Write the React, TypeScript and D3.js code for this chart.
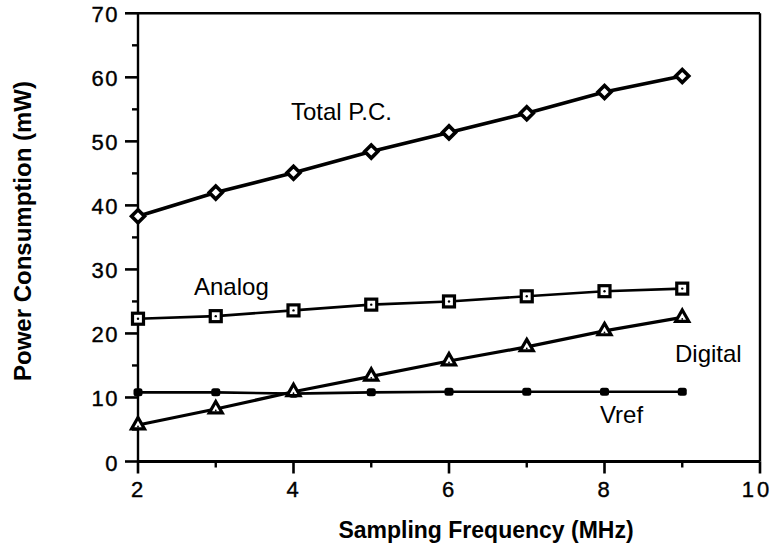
import React from "react";
import * as d3 from "d3";

const freqs = [2, 3, 4, 5, 6, 7, 8, 9];
const totalPC = [38.3, 42.0, 45.1, 48.4, 51.4, 54.4, 57.7, 60.2];
const analog = [22.3, 22.7, 23.6, 24.5, 25.0, 25.8, 26.6, 27.0];
const digital = [5.7, 8.2, 10.9, 13.3, 15.7, 17.9, 20.4, 22.5];
const vref = [10.8, 10.8, 10.6, 10.8, 10.9, 10.9, 10.9, 10.9];

const xMajorTicks = [2, 4, 6, 8, 10];
const xMinorTicks = [3, 5, 7, 9];
const yMajorTicks = [0, 10, 20, 30, 40, 50, 60, 70];
const yMinorTicks = [5, 15, 25, 35, 45, 55, 65];

const xTitle = "Sampling Frequency (MHz)";
const yTitle = "Power Consumption (mW)";

const FONT = "'Liberation Sans', Arial, Helvetica, sans-serif";

export default function App() {
  const W = 777, H = 547;
  const x = d3.scaleLinear().domain([2, 10]).range([138, 760]);
  const y = d3.scaleLinear().domain([0, 70]).range([461.5, 13.3]);
  const line = d3
    .line<number>()
    .x((_, i) => x(freqs[i]))
    .y((d) => y(d));

  const diamond = (cx: number, cy: number, r: number) =>
    `M${cx},${cy - r}L${cx + r},${cy}L${cx},${cy + r}L${cx - r},${cy}Z`;
  const tri = (cx: number, cy: number, r: number) =>
    `M${cx},${cy - r}L${cx + r * 1.0},${cy + r * 0.75}L${cx - r * 1.0},${cy + r * 0.75}Z`;

  return (
    <svg
      width={W}
      height={H}
      style={{ position: "absolute", left: 0, top: 0, background: "#fff" }}
    >
      <rect x={0} y={0} width={W} height={H} fill="#fff" />
      {/* frame */}
      <line x1={x(2)} x2={x(10)} y1={y(70)} y2={y(70)} stroke="#000" strokeWidth={2.6} />
      <line x1={x(2)} x2={x(10)} y1={y(0)} y2={y(0)} stroke="#000" strokeWidth={3} />
      <line x1={x(2)} x2={x(2)} y1={y(70)} y2={y(0)} stroke="#000" strokeWidth={2.4} />
      <line x1={x(10)} x2={x(10)} y1={y(70)} y2={y(0)} stroke="#000" strokeWidth={2.4} />
      {/* y ticks */}
      {yMajorTicks.map((t) => (
        <g key={"ym" + t}>
          <line x1={x(2) - 13} x2={x(2)} y1={y(t)} y2={y(t)} stroke="#000" strokeWidth={2.6} />
          <text
            x={119}
            y={y(t) + 9}
            textAnchor="end"
            fontFamily={FONT}
            fontSize={22}
            letterSpacing={1.5}
            stroke="#000"
            strokeWidth={0.4}
            fill="#000"
          >
            {t}
          </text>
        </g>
      ))}
      {yMinorTicks.map((t) => (
        <line key={"yn" + t} x1={x(2) - 6} x2={x(2)} y1={y(t)} y2={y(t)} stroke="#000" strokeWidth={2.4} />
      ))}
      {/* x ticks */}
      {xMajorTicks.map((t) => (
        <g key={"xm" + t}>
          <line x1={x(t)} x2={x(t)} y1={y(0)} y2={y(0) + 12} stroke="#000" strokeWidth={2.6} />
          <text
            x={x(t) - (t === 10 ? 3 : 1)}
            y={497}
            textAnchor="middle"
            fontFamily={FONT}
            fontSize={22}
            letterSpacing={t === 10 ? 3 : 0}
            stroke="#000"
            strokeWidth={0.4}
            fill="#000"
          >
            {t}
          </text>
        </g>
      ))}
      {xMinorTicks.map((t) => (
        <line key={"xn" + t} x1={x(t)} x2={x(t)} y1={y(0)} y2={y(0) + 6} stroke="#000" strokeWidth={2.4} />
      ))}
      {/* axis titles */}
      <text
        x={486}
        y={538}
        textAnchor="middle"
        fontFamily={FONT}
        fontWeight="bold"
        fontSize={23}
        fill="#000"
      >
        {xTitle}
      </text>
      <text
        transform={`translate(31,231) rotate(-90)`}
        textAnchor="middle"
        fontFamily={FONT}
        fontWeight="bold"
        fontSize={24}
        fill="#000"
      >
        {yTitle}
      </text>

      {/* series lines */}
      <path d={line(vref) || ""} fill="none" stroke="#000" strokeWidth={2.6} />
      <path d={line(analog) || ""} fill="none" stroke="#000" strokeWidth={2.6} />
      <path d={line(digital) || ""} fill="none" stroke="#000" strokeWidth={3.2} />
      <path d={line(totalPC) || ""} fill="none" stroke="#000" strokeWidth={3.6} />

      {/* markers */}
      {vref.map((v, i) => (
        <rect
          key={"v" + i}
          x={x(freqs[i]) - 4.5}
          y={y(v) - 4}
          width={9}
          height={8}
          rx={2.5}
          fill="#000"
        />
      ))}
      {analog.map((v, i) => (
        <g key={"a" + i}>
          <rect
            x={x(freqs[i]) - 5.5}
            y={y(v) - 5.5}
            width={11}
            height={11}
            fill="#fff"
            stroke="#000"
            strokeWidth={3.2}
          />
          <circle cx={x(freqs[i])} cy={y(v)} r={1.2} fill="#000" />
        </g>
      ))}
      {digital.map((v, i) => (
        <g key={"d" + i}>
          <path d={tri(x(freqs[i]), y(v) - 1, 6.5)} fill="#fff" stroke="#000" strokeWidth={3.2} strokeLinejoin="miter" />
          <circle cx={x(freqs[i])} cy={y(v) + 1.5} r={0.9} fill="#000" />
        </g>
      ))}
      {totalPC.map((v, i) => (
        <g key={"t" + i}>
          <path d={diamond(x(freqs[i]), y(v), 6.5)} fill="#fff" stroke="#000" strokeWidth={3.6} />
        </g>
      ))}

      {/* annotations */}
      <text x={291} y={120} fontFamily={FONT} fontSize={24} fill="#000">Total P.C.</text>
      <text x={194} y={295} fontFamily={FONT} fontSize={24} fill="#000">Analog</text>
      <text x={675} y={362} fontFamily={FONT} fontSize={24} fill="#000">Digital</text>
      <text x={600} y={423} fontFamily={FONT} fontSize={24} fill="#000">Vref</text>
    </svg>
  );
}
